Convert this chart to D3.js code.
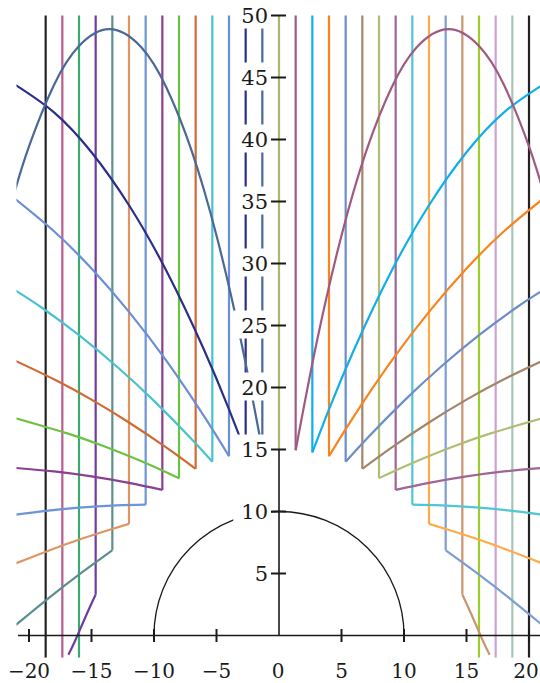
<!DOCTYPE html>
<html>
<head>
<meta charset="utf-8">
<script src="https://d3js.org/d3.v7.min.js"></script>
<style>
body { margin: 0; background: #fff; }
svg text { font-family: "DejaVu Serif", "Liberation Serif", serif; }
</style>
</head>
<body>
<div id="chart-area"></div>
<script>
/*
*    bouncing balls dropped from y = 50 onto a bowl
*/

var width = 540, height = 683;

// where each ball is dropped (right half, the left half is the mirror)
var dropX = [0, 1.333, 2.667, 4, 5.333, 6.667, 8, 9.333, 10.667, 12, 13.333, 14.667, 16, 17.333, 18.667, 20];
// height where it hits the bowl (null = misses it and falls through)
var hitY = [15, 14.94, 14.76, 14.46, 14.02, 13.44, 12.69, 11.74, 10.55, 9.0, 6.87, 3.3, null, null, null, null];

// flight after the bounce
var bounce1 = [[1.333,14.94],[3,23.57],[5,32.26],[7,39.13],[9,44.18],[11,47.42],[13.55,48.9],[16,47.54],[18,44.4],[20,39.44],[21.2,35.6]];
var bounce2 = [[2.667,14.76],[4,18.23],[6,23.04],[9,29.39],[12,34.7],[15,38.97],[18,42.19],[21.2,44.48]];
var bounce3 = [[4,14.46],[6,17.69],[9,22.14],[12,26.1],[15,29.59],[18,32.6],[21.2,35.28]];
var bounce4 = [[5.333,14.02],[7,15.85],[10,18.92],[13,21.71],[16,24.22],[19,26.45],[21.2,27.9]];
var bounce5 = [[6.667,13.44],[9,15.15],[12,17.18],[15,19.02],[18,20.66],[21.2,22.2]];
var bounce6 = [[8,12.69],[11,14.05],[14,15.26],[17,16.32],[21.2,17.56]];
var bounce7 = [[9.333,11.74],[12,12.31],[15,12.83],[18,13.23],[21.2,13.52]];
var bounce8 = [[10.667,10.55],[13,10.49],[16,10.31],[19,10.01],[21.2,9.72]];
var bounce9 = [[12,9],[14,8.39],[17,7.38],[21.2,5.76]];
var bounce10 = [[13.333,6.87],[16,4.91],[18.5,2.96],[21.2,0.73]];
var bounce11 = [[14.667,3.3],[15.5,1.45],[16.3,-0.4],[16.85,-1.55]];
var bounces = [null, bounce1, bounce2, bounce3, bounce4, bounce5, bounce6, bounce7, bounce8,
	bounce9, bounce10, bounce11, null, null, null, null];

var rightColors = ["#a9b86f", "#a05a82", "#11aeea", "#f7841f", "#6b8dcb", "#a5856a", "#aebe74", "#a06495",
	"#52c5d3", "#ffab4a", "#7e9dd3", "#cb9470", "#9fcb2b", "#c9a3d3", "#a8c5b3", "#222222"];
var leftColors = ["#a9b86f", "#4a6898", "#2b2f8c", "#6a8fd6", "#49c2d0", "#d06a33", "#6cc341", "#8a3f92",
	"#6d95d8", "#dd9563", "#5d8f8f", "#6e3d9d", "#3ea872", "#b95d8f", "#222222"];

var circleR = 10;
var yMin = -1.8, yTop = 50;
var xTicks = [-20, -15, -10, -5, 0, 5, 10, 15, 20];
var yTicks = [5, 10, 15, 20, 25, 30, 35, 40, 45, 50];

var svg = d3.select("#chart-area")
	.append("svg")
		.attr("width", width)
		.attr("height", height);

//scales
var x = d3.scaleLinear().domain([-20, 20]).range([29, 529]);
var xMirror = d3.scaleLinear().domain([20, -20]).range([29, 529]);
var y = d3.scaleLinear().domain([0, 50]).range([635.5, 15.5]);

svg.append("clipPath").attr("id", "plot-clip")
	.append("rect")
		.attr("x", 16.5)
		.attr("y", 0)
		.attr("width", width - 16.5)
		.attr("height", y(yMin));

//y axis line (under the rays)
svg.append("line")
	.attr("x1", x(0)).attr("x2", x(0))
	.attr("y1", y(0)).attr("y2", y(50))
	.attr("stroke", "#1a1a1a")
	.attr("stroke-width", 1.6);

//the bowl drawn as a half circle
svg.append("path")
	.attr("d", "M" + x(-circleR) + "," + y(0) + " A" + (x(circleR) - x(0)) + "," + (y(0) - y(circleR)) +
		" 0 0 1 " + x(circleR) + "," + y(0))
	.attr("fill", "none")
	.attr("stroke", "#1a1a1a")
	.attr("stroke-width", 1.3);

var rays = svg.append("g").attr("clip-path", "url(#plot-clip)");

var curve = function(sx){
	return d3.line()
		.x(function(d){ return sx(d[0]); })
		.y(function(d){ return y(d[1]); })
		.curve(d3.curveNatural);
};

function drawRay(k, sx, color) {
	var g = rays.append("g")
		.attr("fill", "none")
		.attr("stroke", color)
		.attr("stroke-width", 2.2);
	var bottom = hitY[k] === null ? yMin : hitY[k];
	g.append("line")
		.attr("x1", sx(dropX[k])).attr("x2", sx(dropX[k]))
		.attr("y1", y(yTop)).attr("y2", y(bottom));
	if (bounces[k]) {
		g.append("path").attr("d", curve(sx)(bounces[k]));
	}
}

// outer rays first so the inner ones end up on top
for (var k = dropX.length - 1; k >= 0; k--) {
	drawRay(k, x, rightColors[k]);
	if (k > 0 && k < leftColors.length) {
		drawRay(k, xMirror, leftColors[k]);
	}
}

//x axis
svg.append("line")
	.attr("x1", 18).attr("x2", width)
	.attr("y1", y(0)).attr("y2", y(0))
	.attr("stroke", "#1a1a1a")
	.attr("stroke-width", 1.6);

svg.selectAll(".xtick")
	.data(xTicks.filter(function(d){ return d != 0; }))
	.enter().append("line")
		.attr("class", "xtick")
		.attr("x1", function(d){ return x(d); })
		.attr("x2", function(d){ return x(d); })
		.attr("y1", y(0) - 6.5)
		.attr("y2", y(0) + 6.5)
		.attr("stroke", "#1a1a1a")
		.attr("stroke-width", 2);

svg.selectAll(".xlabel")
	.data(xTicks)
	.enter().append("text")
		.attr("class", "xlabel")
		.attr("x", function(d){ return d == 0 ? x(0) - 1 : Math.min(x(d), 526); })
		.attr("y", 678)
		.attr("text-anchor", "middle")
		.attr("font-size", "20px")
		.attr("fill", "#1a1a1a")
		.text(function(d){ return d < 0 ? "\u2212" + (-d) : d; });

//y axis ticks and labels on white boxes
svg.selectAll(".ytick")
	.data(yTicks)
	.enter().append("line")
		.attr("class", "ytick")
		.attr("x1", x(0) - 8)
		.attr("x2", x(0) + 7)
		.attr("y1", function(d){ return y(d); })
		.attr("y2", function(d){ return y(d); })
		.attr("stroke", "#1a1a1a")
		.attr("stroke-width", 2);

yTicks.forEach(function(v){
	var row = svg.append("g");
	var box = row.append("rect").attr("fill", "#fff");
	var label = row.append("text")
		.attr("x", 268)
		.attr("y", y(v))
		.attr("dy", "0.36em")
		.attr("text-anchor", "end")
		.attr("font-size", "21px")
		.attr("fill", "#1a1a1a")
		.text(v);
	var bb = label.node().getBBox();
	box.attr("x", bb.x - 8)
		.attr("y", y(v) - 15)
		.attr("width", 271 - (bb.x - 8))
		.attr("height", 28);
});
</script>
</body>
</html>
